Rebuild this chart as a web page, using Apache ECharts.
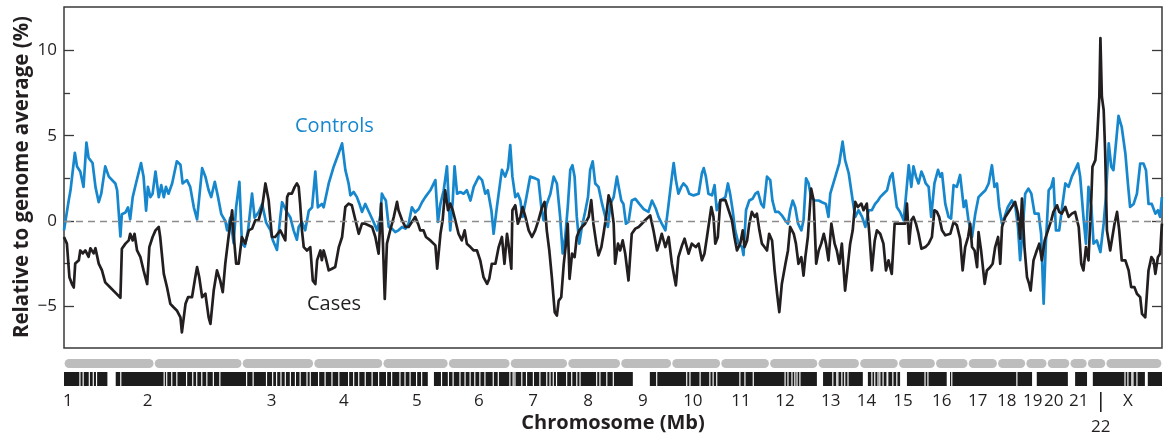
<!DOCTYPE html>
<html>
<head>
<meta charset="utf-8">
<script src="https://cdn.jsdelivr.net/npm/echarts@6.0.0/dist/echarts.min.js"></script>
<style>
html, body { margin: 0; padding: 0; background: #fff; }
#chart { width: 1167px; height: 439px; }
</style>
</head>
<body>
<div id="chart"></div>
<script>
// chromosome sizes (Mb), in genome order
var chromNames = ['1','2','3','4','5','6','7','8','9','10','11','12','13','14','15','16','17','18','19','20','21','22','X'];
var chromLengths = [249.3, 243.2, 198.0, 191.2, 180.9, 171.1, 159.1, 146.4, 141.2, 135.5, 135.0, 133.9, 115.2, 107.3, 102.5, 90.4, 81.2, 78.1, 59.1, 63.0, 48.1, 51.3, 155.3];
// where the chromosome names sit along the genome (Mb)
var labelPos = [11, 231, 574, 774, 976, 1147, 1297, 1449, 1601, 1739, 1872, 1994, 2120, 2219, 2320, 2427, 2527, 2607, 2679, 2737, 2806, 2867, 2942];

// light bands in the ideogram strip (Mb): thin lines and wider blocks
var bandLines = [44, 53, 70, 81, 90, 157, 277, 284, 298, 312, 339, 356, 367, 381, 395, 413, 431, 505, 523, 560, 577, 588, 600, 612, 626, 640, 653, 672, 681, 704, 722, 741, 760, 787, 801, 815, 833, 852, 870, 892, 906, 929, 943, 957, 975, 989, 1044, 1063, 1076, 1095, 1109, 1123, 1136, 1150, 1164, 1187, 1201, 1233, 1242, 1247, 1266, 1279, 1298, 1316, 1335, 1344, 1353, 1362, 1390, 1404, 1418, 1427, 1473, 1482, 1501, 1519, 1639, 1722, 1731, 1759, 1786, 1795, 1805, 1869, 1883, 1906, 1994, 2002, 2013, 2021, 2027, 2035, 2126, 2137, 2140, 2151, 2159, 2168, 2234, 2242, 2251, 2256, 2265, 2276, 2278, 2292, 2303, 2381, 2389, 2455, 2635, 2934, 2942, 2953, 2956, 2967];
var bandBlocks = [[120, 143], [1006, 1023], [1573, 1620], [2082, 2099], [2209, 2223], [2312, 2331], [2441, 2450], [2677, 2690], [2776, 2796], [2829, 2845], [2989, 2997]];

// [position Mb, % relative to genome average]
var controls = [[0,-0.55],[13,1.2],[18,1.8],[30,4.0],[36,3.2],[41,3.3],[45,2.9],[54,2.0],[62,4.6],[68,3.7],[79,3.4],[87,2.0],[96,1.1],[103,1.6],[114,3.2],[124,2.6],[142,2.2],[147,1.8],[156,-0.9],[160,0.4],[170,0.5],[177,0.8],[183,0.1],[190,1.4],[199,2.2],[213,3.4],[220,2.6],[227,0.6],[232,2.0],[239,1.4],[245,1.6],[253,2.9],[262,1.4],[269,2.1],[276,1.4],[282,2.0],[289,1.6],[299,2.2],[312,3.5],[322,3.3],[328,2.2],[340,2.4],[349,2.0],[359,0.8],[368,0.1],[382,3.1],[391,2.6],[400,1.8],[407,1.4],[417,2.3],[426,1.4],[435,0.4],[446,0.0],[451,-0.55],[460,0.2],[469,-1.3],[476,0.8],[485,2.3],[492,-1.3],[500,-1.5],[509,-0.55],[520,1.6],[527,0.2],[538,0.5],[548,1.0],[559,-0.1],[571,-0.55],[577,-1.1],[589,-1.7],[598,0.2],
  [603,1.1],[617,0.5],[626,0.2],[635,-0.55],[644,-1.1],[649,-0.35],[658,-0.06],[667,-0.55],[677,0.6],[686,0.8],[695,2.9],[702,0.8],[713,1.0],[718,0.8],[732,2.2],[746,3.2],[760,4.0],[769,4.55],[778,3.0],[787,2.2],[792,1.5],[801,1.7],[810,1.4],[817,1.0],[824,0.53],[833,1.0],[844,0.5],[856,-0.06],[866,-0.55],[875,0.33],[879,1.6],[884,1.4],[890,1.2],[898,-0.35],[907,-0.45],[916,-0.65],[925,-0.55],[935,-0.35],[944,-0.45],[953,-0.16],[962,0.8],[971,0.5],[981,0.7],[990,1.1],[999,1.4],[1013,1.8],[1027,2.4],[1034,-0.06],[1041,1.0],[1050,1.8],[1059,3.2],[1064,3.2],[1068,-0.55],[1075,1.2],[1080,3.2],[1087,1.6],[1096,1.7],[1105,1.6],[1114,1.8],[1124,1.2],[1133,2.0],[1147,2.6],[1156,2.4],[1165,1.6],[1172,1.8],[1182,0.6],[1188,-0.75],[1197,0.8],[1207,2.4],
  [1211,3.0],[1220,2.6],[1228,3.1],[1234,4.45],[1240,2.6],[1248,1.4],[1255,1.6],[1262,1.2],[1268,0.24],[1277,1.2],[1289,2.6],[1303,2.5],[1312,2.4],[1320,0.8],[1326,0.04],[1335,1.0],[1345,1.6],[1354,2.6],[1363,2.2],[1372,0.24],[1379,-1.9],[1386,-0.94],[1393,0.8],[1400,3.0],[1406,3.27],[1412,2.6],[1418,0.24],[1425,-1.33],[1432,-0.35],[1441,0.53],[1449,1.4],[1455,3.0],[1462,3.5],[1469,2.2],[1478,2.0],[1488,1.0],[1497,0.24],[1504,-0.35],[1511,1.0],[1520,1.4],[1529,2.6],[1534,2.0],[1541,1.2],[1547,1.0],[1554,-0.16],[1561,-0.06],[1570,1.2],[1580,1.3],[1591,1.0],[1603,0.7],[1616,0.53],[1626,1.2],[1630,1.3],[1637,0.7],[1644,0.24],[1653,-0.16],[1663,-0.55],[1672,1.0],[1681,2.6],[1686,3.4],[1692,2.4],[1699,1.6],[1707,2.0],[1713,2.2],[1722,2.0],[1729,1.6],[1741,1.5],[1755,1.6],[1764,2.8],[1769,3.1],[1775,2.6],[1782,1.6],[1792,1.5],[1799,2.1],[1805,0.63],[1815,1.2],
  [1819,1.2],[1829,1.4],[1836,2.2],[1842,1.6],[1849,0.63],[1856,-0.55],[1865,-1.33],[1875,-1.53],[1879,-2.0],[1886,0.63],[1895,1.2],[1904,1.3],[1912,1.6],[1919,1.7],[1928,1.0],[1935,0.8],[1944,2.6],[1953,2.4],[1959,1.2],[1967,0.53],[1976,0.53],[1985,0.33],[1994,0.04],[2002,-0.16],[2008,0.63],[2015,1.2],[2022,0.8],[2030,-0.16],[2039,-0.55],[2045,0.04],[2052,2.5],[2059,2.2],[2066,1.4],[2076,1.2],[2087,1.2],[2096,1.1],[2107,1.0],[2114,0.24],[2119,1.6],[2133,2.6],[2144,3.4],[2153,4.65],[2160,3.57],[2170,2.8],[2181,1.2],[2188,0.24],[2197,0.63],[2207,0.24],[2216,-0.35],[2225,0.63],[2234,0.63],[2243,1.0],[2251,1.2],[2257,1.4],[2266,1.6],[2276,1.8],[2285,2.6],[2291,2.8],[2297,1.8],[2303,0.82],[2312,0.53],[2322,0.04],[2328,1.4],[2336,3.27],[2343,2.0],[2349,3.2],[2356,2.6],[2363,2.2],[2371,2.9],[2377,2.6],[2383,2.2],[2391,2.0],[2398,0.24],[2407,2.2],[2417,3.0],[2423,2.6],
  [2428,2.8],[2437,1.0],[2446,0.24],[2453,0.14],[2460,2.1],[2469,2.0],[2478,2.7],[2488,0.82],[2494,1.2],[2501,0.04],[2511,-0.94],[2520,0.43],[2529,1.4],[2538,1.6],[2548,1.8],[2557,2.2],[2566,3.27],[2573,2.0],[2580,2.2],[2586,0.82],[2594,-0.16],[2601,0.24],[2610,0.82],[2621,1.2],[2631,0.82],[2638,-0.35],[2644,-2.3],[2651,-0.55],[2658,1.6],[2667,1.9],[2675,1.6],[2684,0.43],[2695,0.43],[2702,-0.75],[2709,-4.85],[2715,-1.33],[2723,1.8],[2730,2.0],[2736,2.5],[2743,-0.55],[2752,-0.55],[2759,0.63],[2769,2.2],[2778,2.0],[2787,2.6],[2796,3.0],[2804,3.37],[2810,2.6],[2819,0.24],[2826,-1.33],[2833,2.0],[2841,0.82],[2847,-1.33],[2856,-1.14],[2866,-1.82],[2875,-0.16],[2881,1.4],[2889,4.55],[2896,3.18],[2902,2.98],[2909,4.55],[2916,6.16],[2925,5.5],[2935,3.96],[2942,2.2],[2948,0.82],[2958,1.0],[2967,1.6],[2976,3.37],[2985,3.37],[2992,2.98],[2999,1.0],[3008,1.0],[3018,0.43],[3025,0.63],[3031,0.24],[3036,1.4]];

var cases = [[0,-0.94],[8,-1.33],[15,-3.3],[22,-3.7],[27,-3.9],[31,-2.5],[41,-2.3],[45,-1.73],[52,-1.9],[59,-1.73],[68,-2.1],[73,-1.6],[82,-1.9],[87,-1.6],[96,-2.5],[105,-2.9],[114,-3.6],[128,-3.9],[142,-4.2],[156,-4.5],[160,-1.63],[170,-1.33],[179,-1.14],[183,-0.75],[190,-1.14],[195,-0.75],[202,-1.73],[211,-2.1],[220,-2.9],[230,-3.7],[236,-1.53],[245,-0.94],[253,-0.55],[262,-0.35],[266,-0.94],[276,-3.1],[285,-3.9],[294,-4.86],[303,-5.06],[312,-5.25],[322,-5.65],[326,-6.53],[336,-4.86],[343,-4.47],[354,-4.47],[363,-3.3],[368,-2.7],[374,-3.3],[382,-4.47],[391,-4.27],[400,-5.65],[405,-6.04],[414,-4.08],[423,-2.9],[432,-3.5],[439,-4.18],[446,-2.5],[455,-0.94],[465,0.63],[469,-0.75],[476,-2.5],[483,-2.5],[492,-0.94],[501,-1.33],[511,-0.55],[520,-0.45],[529,0.04],[538,0.04],[548,0.82],[557,2.2],[566,1.2],[575,-0.94],[584,-0.94],[598,-0.55],
  [603,-0.55],[612,-1.14],[617,1.4],[621,1.6],[630,1.6],[638,2.0],[644,2.2],[649,2.0],[653,1.0],[658,-0.55],[663,-1.53],[672,-1.73],[681,-1.53],[688,-3.5],[695,-3.7],[700,-2.3],[709,-1.73],[713,-2.3],[718,-1.73],[723,-2.1],[732,-2.9],[741,-2.8],[750,-2.7],[760,-1.53],[769,-0.94],[778,0.82],[787,1.02],[796,0.92],[806,0.04],[815,-0.75],[824,-0.16],[833,-0.16],[842,-0.25],[852,-0.35],[861,-0.94],[870,-1.92],[877,1.02],[882,-1.33],[887,-4.57],[893,-1.33],[902,-0.55],[912,0.24],[921,1.12],[925,0.63],[935,0.04],[944,-0.35],[953,-0.35],[962,-0.06],[971,0.24],[979,-0.16],[985,-0.55],[994,-0.55],[1001,-0.94],[1013,-1.14],[1027,-1.43],[1032,-2.8],[1041,-0.75],[1047,0.04],[1054,1.8],[1062,0.63],[1068,1.02],[1075,0.63],[1082,0.04],[1091,-0.75],[1100,-1.14],[1108,-0.55],[1114,-1.33],[1124,-1.53],[1133,-1.73],[1142,-1.73],[1151,-2.31],[1160,-3.29],[1170,-3.69],[1176,-3.39],[1183,-2.51],[1193,-2.51],[1202,-1.53],
  [1211,-0.94],[1218,-2.51],[1225,-0.75],[1229,-1.33],[1237,-2.8],[1240,0.63],[1248,0.92],[1255,-0.16],[1262,0.24],[1268,0.82],[1276,0.24],[1285,-0.55],[1294,-0.94],[1303,-0.55],[1312,0.04],[1322,0.82],[1329,1.12],[1335,-0.55],[1342,-1.73],[1349,-3.29],[1357,-5.35],[1363,-5.55],[1368,-4.67],[1375,-4.47],[1382,-2.51],[1388,-1.33],[1393,-0.16],[1398,-3.39],[1405,-1.92],[1412,-2.12],[1418,-0.94],[1425,-0.55],[1432,-0.35],[1441,-0.16],[1451,0.24],[1458,1.22],[1464,-0.16],[1472,-1.33],[1478,-2.02],[1486,-1.53],[1492,-0.75],[1499,0.24],[1506,1.5],[1513,1.02],[1520,-0.16],[1524,-2.51],[1532,-1.33],[1538,-1.73],[1545,-1.14],[1552,-1.92],[1561,-3.49],[1570,-0.75],[1580,-0.45],[1589,-0.35],[1598,-0.16],[1607,0.04],[1621,0.33],[1630,-0.55],[1640,-1.73],[1646,-1.33],[1653,-0.75],[1663,-1.53],[1672,-0.94],[1681,-2.51],[1692,-3.78],[1699,-2.12],[1709,-1.43],[1716,-1.04],[1727,-1.92],[1736,-1.33],[1747,-1.53],[1755,-1.33],[1764,-2.31],[1771,-1.92],[1778,-0.94],[1790,0.82],[1796,0.24],[1801,-1.33],[1808,-0.94],[1815,1.22],
  [1819,1.22],[1829,1.22],[1838,0.63],[1847,0.04],[1854,-0.94],[1861,-1.73],[1870,-1.33],[1877,-0.55],[1882,-1.53],[1889,-1.14],[1895,-0.16],[1902,0.53],[1910,0.24],[1916,0.43],[1923,-0.55],[1930,-1.33],[1937,-1.53],[1944,-1.73],[1950,-0.75],[1958,-1.14],[1965,-2.9],[1972,-4.27],[1978,-5.35],[1985,-3.69],[1995,-2.51],[2002,-1.73],[2008,-0.35],[2018,-0.75],[2024,-1.33],[2031,-2.51],[2039,-2.12],[2045,-3.2],[2050,-2.12],[2057,-0.94],[2066,1.9],[2073,1.22],[2080,-2.51],[2087,-1.73],[2094,-1.33],[2101,-0.75],[2107,-1.33],[2114,-2.31],[2122,-0.16],[2131,-1.33],[2137,-1.73],[2144,-2.51],[2151,-1.33],[2160,-4.08],[2168,-2.51],[2174,-1.33],[2181,-0.55],[2188,1.12],[2195,0.82],[2205,1.02],[2211,0.63],[2220,1.02],[2227,-0.75],[2234,-2.9],[2242,-1.14],[2248,-0.55],[2257,-0.75],[2266,-1.33],[2273,-2.9],[2280,-2.31],[2289,-3.1],[2297,-0.16],[2308,-0.16],[2317,-0.16],[2326,-0.16],[2331,1.02],[2337,-1.33],[2343,0.04],[2349,0.24],[2356,-0.16],[2363,-0.75],[2371,-1.63],[2382,-1.53],[2391,-1.33],[2400,-0.94],[2407,0.63],[2414,0.53],[2420,0.24],
  [2428,-0.55],[2437,-0.84],[2451,-0.75],[2460,-0.06],[2469,-0.25],[2478,-1.04],[2485,-2.9],[2492,-1.53],[2500,-0.94],[2506,-0.16],[2511,-1.53],[2518,-1.73],[2525,-2.71],[2529,-0.65],[2536,-1.73],[2546,-3.69],[2552,-2.9],[2561,-2.71],[2568,-2.51],[2575,-1.53],[2583,-0.94],[2589,-2.51],[2594,-0.35],[2603,0.24],[2612,0.53],[2621,0.82],[2630,1.12],[2638,0.43],[2644,-1.04],[2649,1.31],[2656,-1.53],[2663,-3.29],[2669,-3.69],[2673,-4.08],[2681,-2.31],[2690,-1.73],[2697,-1.33],[2704,-2.31],[2712,-1.14],[2721,-0.55],[2730,0.04],[2736,0.53],[2746,0.92],[2752,0.53],[2759,0.43],[2769,0.82],[2778,0.24],[2787,0.43],[2796,0.53],[2806,-0.35],[2813,-2.51],[2819,-2.9],[2826,-1.53],[2833,-2.31],[2841,1.41],[2844,3.18],[2852,3.57],[2857,4.9],[2863,7.29],[2866,10.73],[2870,7.29],[2875,6.51],[2879,4.15],[2884,-0.55],[2893,-1.73],[2905,-0.16],[2912,0.53],[2918,-0.55],[2925,-2.31],[2935,-2.31],[2944,-2.9],[2951,-3.88],[2960,-3.88],[2967,-4.27],[2976,-4.47],[2981,-5.45],[2990,-5.65],[2995,-5.75],[2999,-2.9],[3007,-2.12],[3013,-2.31],[3018,-3.1],[3025,-2.12],[3031,-1.92],[3036,-0.16]];

var yLabelTicks = [-5, 0, 5, 10];
var yMinorTicks = [-2.5, 2.5, 7.5];

var BLUE = '#1787cd';
var INK = '#231f20';
var FONT = '"Open Sans", "Noto Sans", sans-serif';

// chromosome spans from cumulative lengths
var chromSpans = [];
var acc = 0;
chromLengths.forEach(function (len) {
    chromSpans.push([acc, acc + len]);
    acc += len;
});
var GENOME = acc;

var lightBands = bandLines.map(function (c) { return [c - 1.6, c + 1.6]; }).concat(bandBlocks);
var labelData = labelPos.map(function (p, i) { return [p, chromNames[i]]; });

function spanX(api) {
    var x0 = api.coord([api.value(0), 0])[0];
    var x1 = api.coord([api.value(1), 0])[0];
    return [x0, x1];
}

var chart = echarts.init(document.getElementById('chart'));
chart.setOption({
    animation: false,
    textStyle: { fontFamily: FONT },
    grid: [
        { left: 64, top: 7, width: 1098, height: 341, show: true, borderColor: '#3a3a3a', borderWidth: 1.5, backgroundColor: 'transparent' },
        { left: 64, top: 359, width: 1098, height: 28 }
    ],
    xAxis: [
        { gridIndex: 0, type: 'value', min: 0, max: GENOME, show: false },
        { gridIndex: 1, type: 'value', min: 0, max: GENOME, show: false }
    ],
    yAxis: [
        {
            gridIndex: 0, type: 'value', min: -7.45, max: 12.55,
            splitLine: { show: false }, axisLine: { show: false },
            axisTick: { inside: true, length: 10, customValues: yLabelTicks, lineStyle: { color: '#3a3a3a', width: 1.3 } },
            axisLabel: {
                customValues: yLabelTicks, margin: 7, fontSize: 17, color: INK, fontFamily: FONT,
                formatter: function (v) { return v < 0 ? '\u2212' + Math.abs(v) : String(v); }
            }
        },
        {
            gridIndex: 0, type: 'value', min: -7.45, max: 12.55, position: 'left',
            splitLine: { show: false }, axisLine: { show: false }, axisLabel: { show: false },
            axisTick: { inside: true, length: 6, customValues: yMinorTicks, lineStyle: { color: '#3a3a3a', width: 1.3 } }
        },
        {
            gridIndex: 0, type: 'value', min: -7.45, max: 12.55, position: 'right',
            splitLine: { show: false }, axisLine: { show: false }, axisLabel: { show: false },
            axisTick: { inside: true, length: 10, customValues: yLabelTicks.concat(yMinorTicks), lineStyle: { color: '#3a3a3a', width: 1.3 } }
        },
        { gridIndex: 1, type: 'value', min: 0, max: 1, show: false }
    ],
    graphic: [
        { type: 'text', x: 22, y: 177, rotation: Math.PI / 2, style: { text: 'Relative to genome average (%)', fill: INK, font: 'bold 20.5px ' + FONT, align: 'center', verticalAlign: 'middle' } },
        { type: 'text', x: 613, y: 423, style: { text: 'Chromosome (Mb)', fill: INK, font: 'bold 20px ' + FONT, align: 'center', verticalAlign: 'middle' } },
        { type: 'text', left: 295, top: 116, style: { text: 'Controls', fill: BLUE, font: '20px ' + FONT } },
        { type: 'text', left: 307, top: 294, style: { text: 'Cases', fill: INK, font: '20px ' + FONT } }
    ],
    series: [
        {
            name: 'Controls', type: 'line', xAxisIndex: 0, yAxisIndex: 0,
            data: controls, showSymbol: false, symbol: 'none',
            lineStyle: { color: BLUE, width: 2.7, join: 'round' },
            markLine: {
                silent: true, symbol: 'none', label: { show: false },
                lineStyle: { color: '#8c8c8c', type: [7, 5], width: 1.3 },
                data: [{ yAxis: 0 }]
            },
            z: 2
        },
        {
            name: 'Cases', type: 'line', xAxisIndex: 0, yAxisIndex: 0,
            data: cases, showSymbol: false, symbol: 'none',
            lineStyle: { color: INK, width: 2.7, join: 'round' },
            z: 3
        },
        {
            type: 'custom', xAxisIndex: 1, yAxisIndex: 3,
            data: chromSpans, encode: { x: [0, 1] }, silent: true,
            renderItem: function (params, api) {
                var xs = spanX(api);
                var cs = params.coordSys;
                return { type: 'rect', shape: { x: xs[0] + 0.6, y: cs.y, width: xs[1] - xs[0] - 1.2, height: 9, r: 4.5 }, style: { fill: '#bdbdbd' } };
            }
        },
        {
            type: 'custom', xAxisIndex: 1, yAxisIndex: 3,
            data: [[0, GENOME]], encode: { x: [0, 1] }, silent: true,
            renderItem: function (params, api) {
                var xs = spanX(api);
                var cs = params.coordSys;
                return { type: 'rect', shape: { x: xs[0], y: cs.y + 13, width: xs[1] - xs[0], height: 14 }, style: { fill: '#1c1c1c' } };
            }
        },
        {
            type: 'custom', xAxisIndex: 1, yAxisIndex: 3,
            data: lightBands, encode: { x: [0, 1] }, silent: true,
            renderItem: function (params, api) {
                var xs = spanX(api);
                var cs = params.coordSys;
                return { type: 'rect', shape: { x: xs[0], y: cs.y + 13, width: Math.max(xs[1] - xs[0], 1), height: 14 }, style: { fill: '#ffffff' } };
            }
        },
        {
            // chromosome names under the strip
            type: 'custom', xAxisIndex: 1, yAxisIndex: 3,
            data: labelData, encode: { x: 0 }, silent: true,
            renderItem: function (params, api) {
                var x = api.coord([api.value(0), 0])[0];
                var cs = params.coordSys;
                var base = cs.y + cs.height;
                var name = chromNames[params.dataIndex];
                if (name === '22') {
                    return {
                        type: 'group', children: [
                            { type: 'line', shape: { x1: x, y1: base + 5, x2: x, y2: base + 25 }, style: { stroke: INK, lineWidth: 1.6 } },
                            { type: 'text', style: { x: x, y: base + 40, text: name, fill: INK, font: '17px ' + FONT, align: 'center', verticalAlign: 'middle' } }
                        ]
                    };
                }
                return { type: 'text', style: { x: x, y: base + 14, text: name, fill: INK, font: '17px ' + FONT, align: 'center', verticalAlign: 'middle' } };
            }
        }
    ]
});
</script>
</body>
</html>
